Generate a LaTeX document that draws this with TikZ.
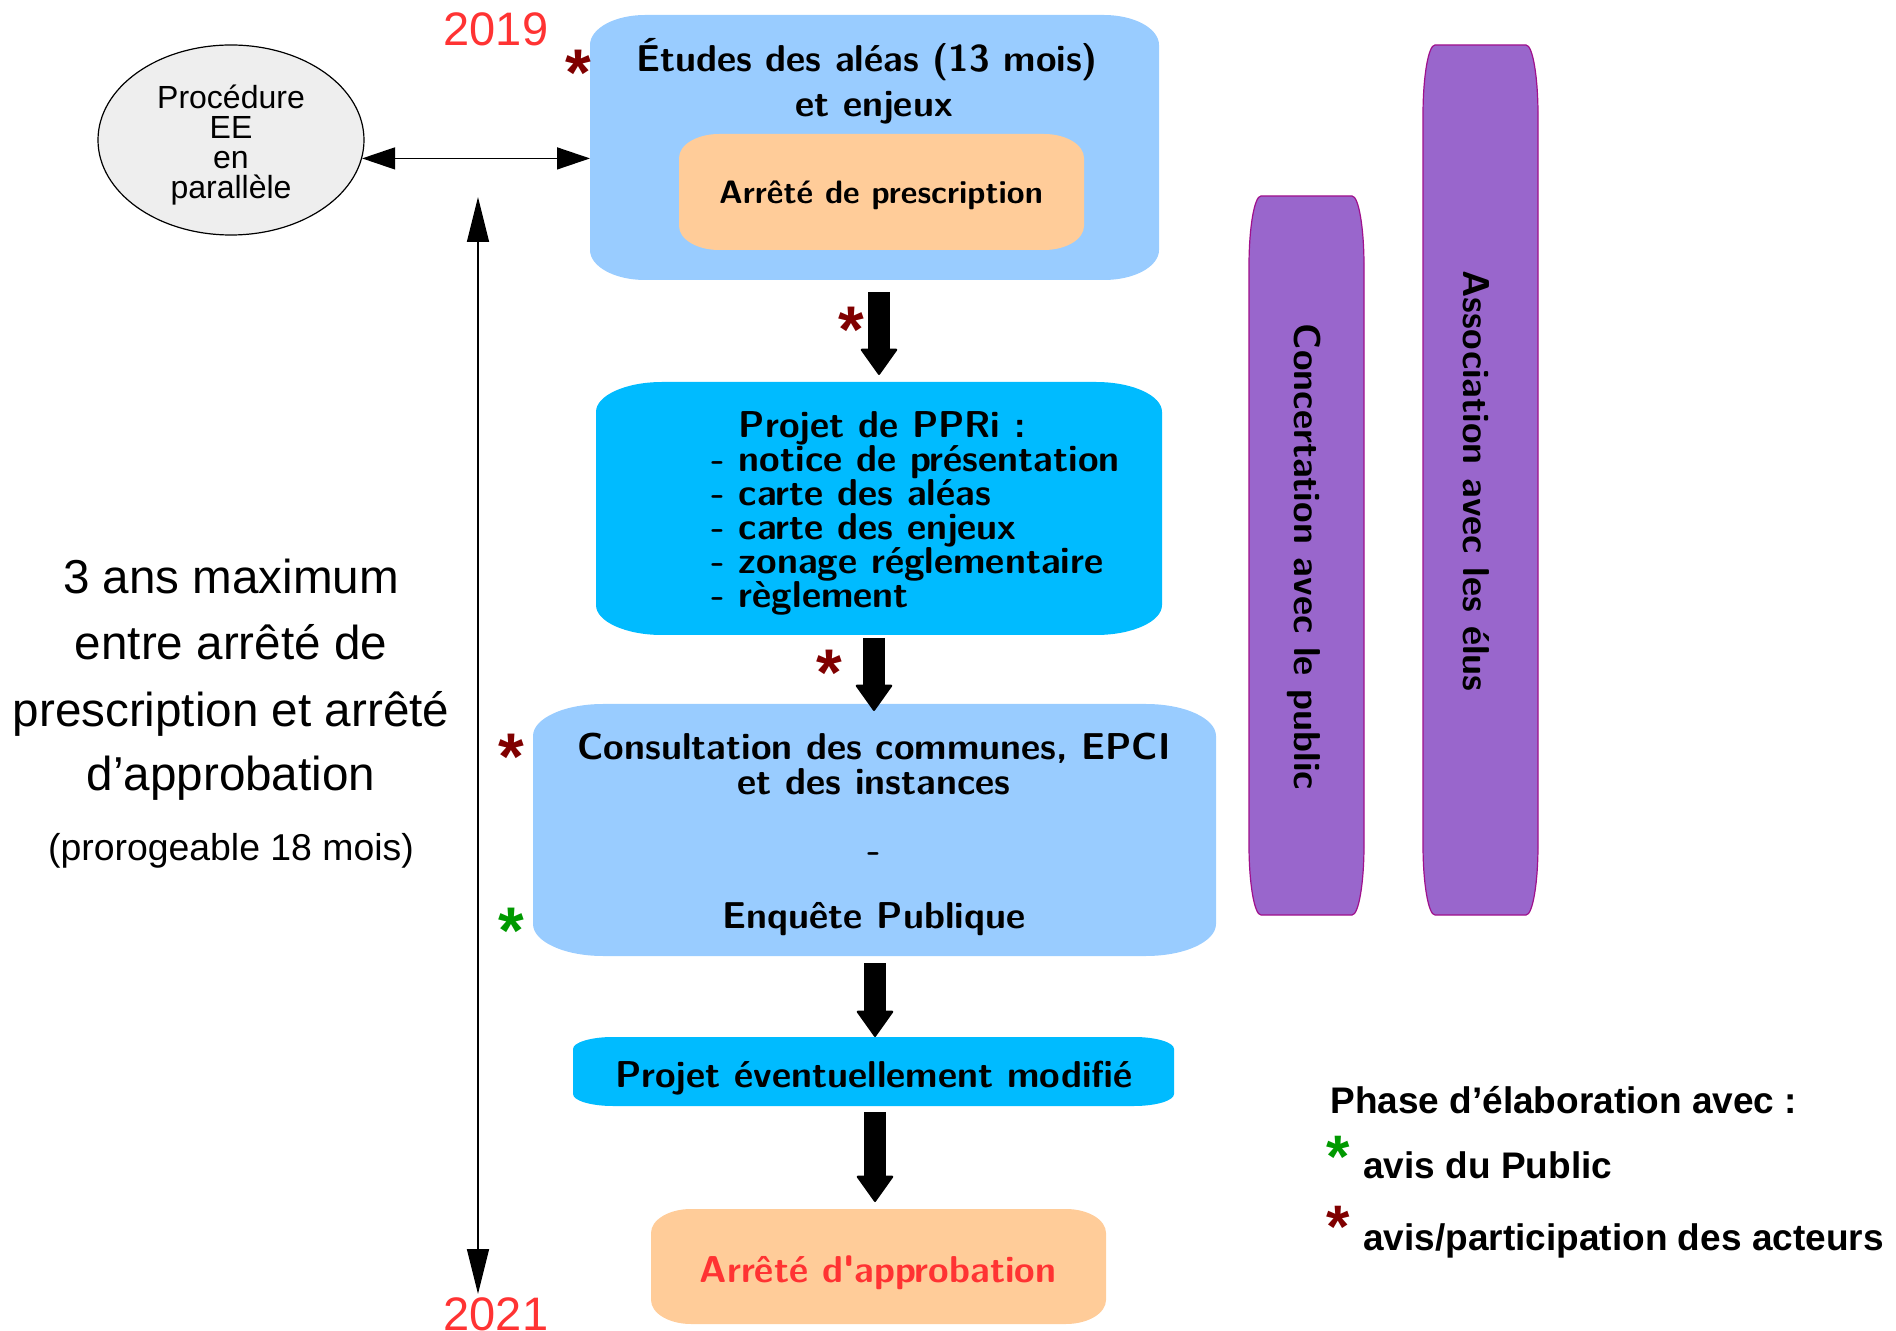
\documentclass[tikz,border=0pt]{standalone}
\usepackage{fontspec}
\setmainfont{Liberation Sans}
\usetikzlibrary{arrows.meta,shapes.geometric}
\definecolor{lblue}{HTML}{99CCFF}
\definecolor{dblue}{HTML}{00BBFF}
\definecolor{orng}{HTML}{FFCC99}
\definecolor{purp}{HTML}{9966CC}
\definecolor{purpline}{HTML}{A0108C}
\definecolor{ellgray}{HTML}{EEEEEE}
\definecolor{redtxt}{HTML}{FF3333}
\definecolor{starred}{HTML}{800000}
\definecolor{stargreen}{HTML}{009900}
\newcommand\ebox[4]{\path[#4] ([xshift=#2]#1.north west) -- ([xshift=-#2]#1.north east)
  arc[start angle=90,end angle=0,x radius=#2,y radius=#3] -- ([yshift=#3]#1.south east)
  arc[start angle=0,end angle=-90,x radius=#2,y radius=#3] -- ([xshift=#2]#1.south west)
  arc[start angle=270,end angle=180,x radius=#2,y radius=#3] -- ([yshift=-#3]#1.north west)
  arc[start angle=180,end angle=90,x radius=#2,y radius=#3] -- cycle;}
\newcommand\Lleft[2]{\vtop{\baselineskip=#1\lineskiplimit=-100pt\relax\halign{##\hfil\cr#2\crcr}}}
\tikzset{
  shp/.style 2 args={rectangle,inner sep=0,outer sep=0,minimum width=#1,minimum height=#2},
  bx/.style={inner sep=0,anchor=base,font=\sffamily\bfseries\fontsize{18.7}{17}\selectfont},
  arial/.style={inner sep=0,anchor=base,font=\fontsize{23.8}{28}\selectfont},
  leg/.style={inner sep=0,anchor=base west,font=\bfseries\fontsize{18.5}{22}\selectfont},
  starbig/.style={inner sep=0,anchor=base,font=\bfseries\fontsize{33}{33}\selectfont},
  starsm/.style={inner sep=0,anchor=base,font=\bfseries\fontsize{30}{30}\selectfont},
  blk/.style={line width=11pt,-{Triangle[width=19pt,length=13.5pt,round,line width=1pt]}},
  dbl/.style={line width=0.7pt,{Triangle[width=11pt,length=16.5pt]}-{Triangle[width=11pt,length=16.5pt]}},
  vert/.style={line width=0.7pt,{Triangle[width=11pt,length=22.5pt]}-{Triangle[width=11pt,length=22.5pt]}},
}
\begin{document}
\begin{tikzpicture}[x=0.5pt,y=-0.5pt]
\useasboundingbox (0,0) rectangle (1896,1331);
% shapes
\node[shp={284.5pt}{132.5pt}] (b1) at (874.5,147.5) {};
\node[shp={202.5pt}{58pt}] (b1i) at (881.5,192) {};
\node[shp={283pt}{126.5pt}] (b2) at (879,508.5) {};
\node[shp={341.5pt}{126pt}] (b3) at (874.5,830) {};
\node[shp={300.5pt}{34.5pt}] (b4) at (873.5,1071.5) {};
\node[shp={227.5pt}{57.5pt}] (b5) at (878.5,1266.5) {};
\node[shp={57.5pt}{359.5pt}] (bar1) at (1306.5,555.5) {};
\node[shp={57.5pt}{435pt}] (bar2) at (1480.5,480) {};
\ebox{b1}{27.5pt}{15pt}{fill=lblue}
\ebox{b1i}{20pt}{12pt}{fill=orng}
\ebox{b2}{33pt}{15pt}{fill=dblue}
\ebox{b3}{35pt}{16pt}{fill=lblue}
\ebox{b4}{20pt}{6pt}{fill=dblue}
\ebox{b5}{20pt}{12pt}{fill=orng}
\ebox{bar1}{6pt}{35pt}{fill=purp,draw=purpline,line width=0.6pt}
\ebox{bar2}{6pt}{35pt}{fill=purp,draw=purpline,line width=0.6pt}
% ellipse
\node[ellipse,draw,fill=ellgray,line width=0.6pt,minimum width=133pt,minimum height=95pt,inner sep=0] (ell) at (231,140) {};
\node[inner sep=0,align=center,font=\fontsize{16}{15}\selectfont] (ellt) at (231,145) {Procédure\\EE\\en\\parallèle};
% years
\node[arial,font=\fontsize{23.5}{28}\selectfont,text=redtxt] (y1) at (496,46) {2019};
\node[arial,font=\fontsize{23.5}{28}\selectfont,text=redtxt] (y2) at (496,1330) {2021};
% box texts
\node[bx] (t1a) at (867,72) {Études des aléas (13 mois)};
\node[bx] (t1b) at (874,117) {et enjeux};
\node[bx,font=\sffamily\bfseries\fontsize{16.2}{17}\selectfont] (tp) at (881,204) {Arrêté de prescription};
\node[bx,anchor=base west] (t2) at (711,438) {\Lleft{17pt}{\hphantom{-}\ Projet de PPRi :\cr - notice de présentation\cr - carte des aléas\cr - carte des enjeux\cr - zonage réglementaire\cr - règlement}};
\node[bx] (t3a) at (874,760) {Consultation des communes, EPCI};
\node[bx] (t3b) at (874,794) {et des instances};
\node[bx] (t3c) at (874,862) {-};
\node[bx] (t3d) at (874,928) {Enquête Publique};
\node[bx] (t4) at (874,1087) {Projet éventuellement modifié};
\node[bx,text=redtxt] (t5) at (878,1282) {Arrêté d\textquotesingle approbation};
\node[bx,anchor=center,rotate=-90] (tbar1) at (1304,557) {Concertation avec le public};
\node[bx,anchor=center,rotate=-90] (tbar2) at (1476,481) {Association avec les élus};
% left text
\node[arial] (l1) at (231,594) {3 ans maximum};
\node[arial] (l2) at (231,660) {entre arrêté de};
\node[arial] (l3) at (231,726) {prescription et arrêté};
\node[arial] (l4) at (231,791) {d’approbation};
\node[arial,font=\fontsize{18.7}{22}\selectfont] (l5) at (231,860) {(prorogeable 18 mois)};
% legend
\node[leg] (g1) at (1330,1113) {Phase d’élaboration avec :};
\node[leg] (g2) at (1363,1178) {avis du Public};
\node[leg] (g3) at (1363,1250) {avis/participation des acteurs};
\node[starsm,text=stargreen] (gs1) at (1338,1177) {*};
\node[starsm,text=starred] (gs2) at (1338,1247) {*};
% stars
\node[starbig,text=starred] (s1) at (578,96) {*};
\node[starbig,text=starred] (s2) at (851,353) {*};
\node[starbig,text=starred] (s3) at (829,696) {*};
\node[starbig,text=starred] (s4) at (511,779) {*};
\node[starbig,text=stargreen] (s5) at (511,953) {*};
% connectors
\draw[dbl] (ell.-8.6) -- (ell.-8.6 -| b1.west);
\coordinate (vt) at (478,197);
\coordinate (vb) at (478,1294);
\draw[vert] (vt) -- (vb);
\draw[blk] ([xshift=2.25pt,yshift=-6pt]b1.south) -- ([yshift=3.5pt]b2.north);
\draw[blk] ([xshift=-2.5pt,yshift=-1.5pt]b2.south) -- ([xshift=-0.25pt,yshift=-3.5pt]b3.north);
\draw[blk] ([xshift=0.25pt,yshift=-3.5pt]b3.south) -- ([xshift=0.75pt]b4.north);
\draw[blk] ([xshift=0.75pt,yshift=-3pt]b4.south) -- ([xshift=-1.75pt,yshift=3.5pt]b5.north);
\end{tikzpicture}
\end{document}
